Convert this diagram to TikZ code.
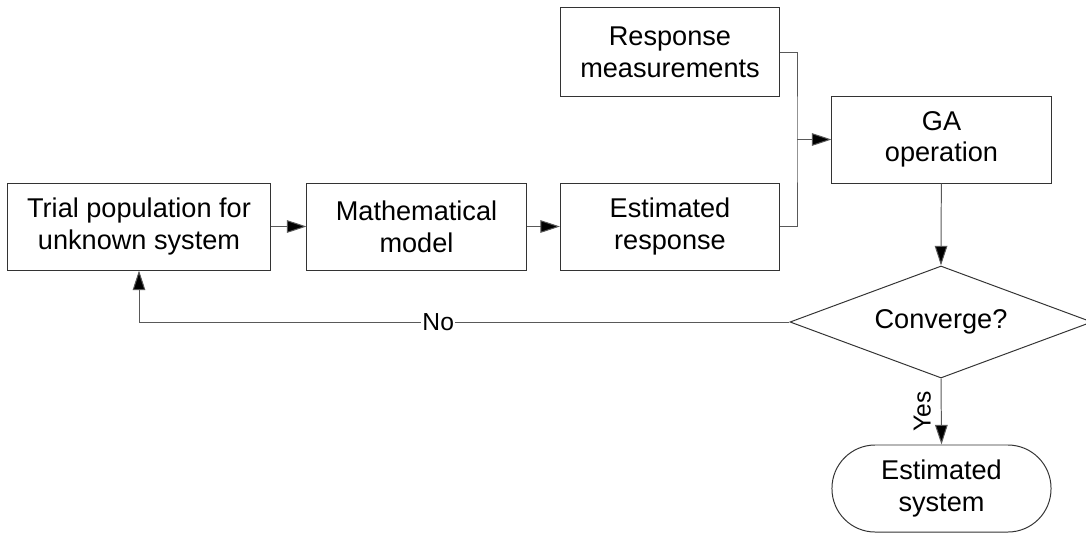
\documentclass[tikz,border=0pt]{standalone}
\usepackage{fontspec}
\setmainfont{Liberation Sans}
\usetikzlibrary{arrows.meta,shapes.geometric}

\tikzset{
  block/.style={draw=black!80, line width=0.7pt, fill=white, align=center,
    minimum width=5.475cm, minimum height=2.175cm, inner sep=0pt,
    font=\fontsize{19.3pt}{22.5pt}\selectfont},
  decision/.style={diamond, draw=black!80, line width=0.7pt, aspect=2.7,
    minimum width=7.55cm, minimum height=2.8cm, inner sep=0pt,
    font=\fontsize{19.3pt}{22.5pt}\selectfont},
  terminal/.style={block, rounded corners=1.08cm},
  link/.style={draw=black!65, line width=0.7pt},
  flow/.style={link, -{Triangle[length=14pt,width=9pt,fill=black]}},
  lbl/.style={font=\fontsize{17.5pt}{20pt}\selectfont, inner sep=1pt}
}

\begin{document}
\begin{tikzpicture}[x=0.025cm, y=-0.025cm]
  \useasboundingbox (0,0) rectangle (1086,534);

  % Blocks of the loop
  \node [block, minimum width=6.55cm] (trial) at (139,226.5) {Trial population for\\unknown system};
  \node [block] (model) at (416.5,226.5) {Mathematical\\model};
  \node [block] (estresp) at (670,226.5) {Estimated\\response};
  \node [block, minimum height=2.2cm] (meas) at (670,52) {Response\\measurements};
  \node [block] (ga) at (941.5,139.5) {GA\\operation};
  \node [decision] (conv) at (941,322) {Converge?};
  \node [terminal] (estsys) at (941.5,488.5) {Estimated\\system};

  % Merging point of the two responses
  \coordinate (bus) at (797,139.5);

  % Connectors
  \draw [flow] (trial) -- (model);
  \draw [flow] (model) -- (estresp);
  \draw [link] (meas.east) -| (bus) |- (estresp.east);
  \draw [flow] (bus) -- (ga.west);
  \draw [flow] (ga) -- (conv.north);
  \draw [flow] (conv.west) -| node [pos=0.27, fill=white, lbl] {No} (trial.south);
  \draw [flow] (conv.south) -- node [lbl, inner ysep=7pt, rotate=90, anchor=south] {Yes} (estsys.north);
\end{tikzpicture}
\end{document}
